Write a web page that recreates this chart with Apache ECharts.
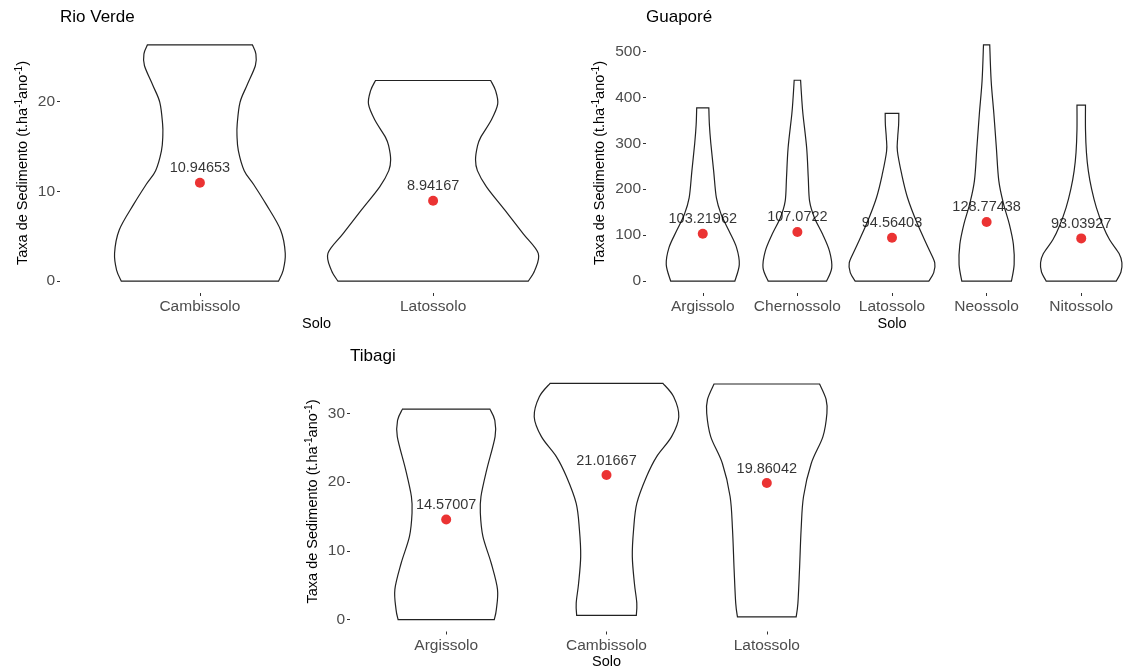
<!DOCTYPE html>
<html><head><meta charset="utf-8">
<script src="https://cdn.jsdelivr.net/npm/echarts@6/dist/echarts.min.js"></script>
<style>html,body{margin:0;padding:0;background:#fff}#c{width:1138px;height:671px}</style>
</head><body><div id="c"></div>
<script>
const FONT = '"Liberation Sans", Arial, Helvetica, sans-serif';

// ---------- Rio Verde ----------
const rioVerdeCategories = ['Cambissolo', 'Latossolo'];
const rioVerdeMeans = [10.94653, 8.94167];
const rioVerdeTicks = [0, 10, 20];
// violin outlines: [value, half-width in category units]
const rvCambissoloProfile = [[0,0.337],[1.2,0.357],[3.1,0.366],[5.7,0.346],[8.6,0.283],[10.7,0.232],[12.3,0.19],[14.5,0.165],[16.2,0.159],[17.5,0.16],[19.9,0.172],[21.8,0.202],[24,0.238],[25.3,0.24],[26.3,0.225]];
const rvLatossoloProfile = [[0,0.408],[1.2,0.436],[3.1,0.451],[5.3,0.386],[7.9,0.308],[10.5,0.229],[12.3,0.19],[13.5,0.182],[15,0.19],[16.0,0.204],[17.9,0.249],[19.7,0.277],[21.2,0.268],[22.33,0.247]];

// ---------- Guaporé ----------
const guaporeCategories = ['Argissolo', 'Chernossolo', 'Latossolo', 'Neossolo', 'Nitossolo'];
const guaporeMeans = [103.21962, 107.0722, 94.56403, 128.77438, 93.03927];
const guaporeTicks = [0, 100, 200, 300, 400, 500];
const guArgissoloProfile = [[0,0.339],[36,0.386],[73,0.357],[109,0.278],[145,0.195],[181,0.144],[240,0.115],[300,0.085],[340,0.07],[377,0.064]];
const guChernossoloProfile = [[0,0.308],[29,0.363],[65,0.34],[102,0.267],[138,0.18],[174,0.129],[225,0.115],[290,0.098],[363,0.059],[400,0.045],[437,0.034]];
const guLatossoloProfile = [[0,0.389],[18,0.44],[40,0.452],[72,0.384],[127,0.264],[181,0.165],[232,0.103],[283,0.057],[312,0.06],[340,0.07],[365,0.072]];
const guNeossoloProfile = [[0,0.262],[36,0.291],[80,0.283],[124,0.24],[167,0.18],[218,0.129],[290,0.103],[363,0.077],[436,0.048],[514,0.033]];
const guNitossoloProfile = [[0,0.37],[20,0.42],[40,0.43],[60,0.40],[90,0.30],[120,0.23],[160,0.16],[200,0.11],[240,0.075],[280,0.055],[330,0.045],[383,0.045]];

// ---------- Tibagi ----------
const tibagiCategories = ['Argissolo', 'Cambissolo', 'Latossolo'];
const tibagiMeans = [14.57007, 21.01667, 19.86042];
const tibagiTicks = [0, 10, 20, 30];
const tiArgissoloProfile = [[0,0.30],[1.5,0.313],[4.4,0.32],[8.2,0.281],[12.1,0.229],[15.5,0.213],[17.9,0.217],[21.8,0.253],[26.6,0.305],[29,0.303],[30.6,0.273]];
const tiCambissoloProfile = [[0.62,0.186],[2.4,0.189],[5.3,0.174],[9.2,0.161],[13.1,0.169],[16.9,0.189],[20.8,0.25],[23.7,0.313],[26.6,0.406],[29.5,0.451],[32.4,0.419],[34.35,0.352]];
const tiLatossoloProfile = [[0.4,0.183],[2.4,0.194],[7.3,0.204],[13.1,0.214],[17.9,0.229],[22.7,0.277],[26.6,0.35],[30,0.375],[32,0.37],[34.25,0.329]];

const panels = [
  {title: 'Rio Verde', cats: rioVerdeCategories, means: rioVerdeMeans, ticks: rioVerdeTicks,
   profiles: [rvCambissoloProfile, rvLatossoloProfile],
   grid: {left: 60, top: 33, width: 513, height: 260}, nameGap: 28, titlePos: {left: 60, top: 9}},
  {title: 'Guaporé', cats: guaporeCategories, means: guaporeMeans, ticks: guaporeTicks,
   profiles: [guArgissoloProfile, guChernossoloProfile, guLatossoloProfile, guNeossoloProfile, guNitossoloProfile],
   grid: {left: 646, top: 33, width: 505.7, height: 260}, nameGap: 37, titlePos: {left: 646, top: 9}},
  {title: 'Tibagi', cats: tibagiCategories, means: tibagiMeans, ticks: tibagiTicks,
   profiles: [tiArgissoloProfile, tiCambissoloProfile, tiLatossoloProfile],
   grid: {left: 350, top: 371.5, width: 513, height: 260}, nameGap: 28, titlePos: {left: 350, top: 347.5}}
];

function curve(pts) {
  let s = '';
  for (let k = 0; k < pts.length - 1; k++) {
    const p0 = pts[k - 1] || pts[k], p1 = pts[k], p2 = pts[k + 1], p3 = pts[k + 2] || pts[k + 1];
    const c1x = p1[0] + (p2[0] - p0[0]) / 6, c1y = p1[1] + (p2[1] - p0[1]) / 6;
    const c2x = p2[0] - (p3[0] - p1[0]) / 6, c2y = p2[1] - (p3[1] - p1[1]) / 6;
    s += 'C' + c1x + ',' + c1y + ',' + c2x + ',' + c2y + ',' + p2[0] + ',' + p2[1];
  }
  return s;
}

const grids = [], xAxes = [], yAxes = [], series = [], titles = [];
panels.forEach((p, gi) => {
  const idx = p.cats.map((_, i) => i);
  let dataMax = 0, dataMin = Infinity;
  p.profiles.forEach(pr => pr.forEach(([v]) => { dataMax = Math.max(dataMax, v); dataMin = Math.min(dataMin, v); }));
  const span = dataMax - dataMin;
  grids.push(p.grid);
  titles.push({text: p.title, left: p.titlePos.left, top: p.titlePos.top, padding: 0,
    textStyle: {fontFamily: FONT, fontSize: 17, fontWeight: 'normal', color: '#000'}});
  xAxes.push({type: 'value', gridIndex: gi, min: -0.6, max: p.cats.length - 0.4,
    splitLine: {show: false}, axisLine: {show: false, onZero: false},
    axisTick: {show: true, customValues: idx, length: 3, lineStyle: {color: '#333', width: 1}},
    axisLabel: {customValues: idx, formatter: v => p.cats[Math.round(v)] || '', color: '#4d4d4d',
      fontSize: 15.5, fontFamily: FONT, margin: 6},
    name: 'Solo', nameLocation: 'middle', nameGap: 23,
    nameTextStyle: {color: '#000', fontSize: 14.5, fontFamily: FONT}});
  yAxes.push({type: 'value', gridIndex: gi, min: dataMin - 0.05 * span, max: dataMax + 0.05 * span,
    splitLine: {show: false}, axisLine: {show: false, onZero: false},
    axisTick: {show: true, customValues: p.ticks, length: 3, lineStyle: {color: '#333', width: 1}},
    axisLabel: {customValues: p.ticks, color: '#4d4d4d', fontSize: 15.5, fontFamily: FONT, margin: 5},
    name: 'Taxa de Sedimento (t.ha{s|-1}ano{s|-1})', nameLocation: 'middle', nameGap: p.nameGap,
    nameTextStyle: {color: '#000', fontSize: 14.5, fontFamily: FONT, lineHeight: 18,
      rich: {s: {fontSize: 10, fontFamily: FONT, color: '#000', lineHeight: 11, verticalAlign: 'top'}}}});
  const profiles = p.profiles;
  series.push({
    type: 'custom', xAxisIndex: gi, yAxisIndex: gi, silent: true, z: 1,
    data: profiles.map((pr, i) => [i, pr[pr.length - 1][0]]),
    renderItem: function (params, api) {
      const i = api.value(0);
      const prof = profiles[i];
      const unit = api.size([1, 0])[0];
      const left = prof.map(([v, w]) => { const c = api.coord([i, v]); return [c[0] - w * unit, c[1]]; });
      const right = prof.map(([v, w]) => { const c = api.coord([i, v]); return [c[0] + w * unit, c[1]]; }).reverse();
      let d = 'M' + left[0][0] + ',' + left[0][1] + curve(left);
      d += 'L' + right[0][0] + ',' + right[0][1] + curve(right) + 'Z';
      return {type: 'path', shape: {pathData: d},
        style: {fill: '#fff', stroke: '#222', lineWidth: 1.2}};
    }
  });
  series.push({
    type: 'scatter', xAxisIndex: gi, yAxisIndex: gi, z: 5, silent: true,
    data: p.means.map((m, i) => [i, m]),
    symbol: 'circle', symbolSize: 10, itemStyle: {color: '#e60000'},
    label: {show: true, position: 'top', distance: 2, formatter: q => String(q.value[1]),
      color: '#000', fontSize: 14.5, fontFamily: FONT}
  });
});

const chart = echarts.init(document.getElementById('c'), null, {renderer: 'canvas'});
chart.setOption({
  backgroundColor: '#fff',
  animation: false,
  title: titles,
  grid: grids,
  xAxis: xAxes,
  yAxis: yAxes,
  series: series
});
</script>
</body></html>
